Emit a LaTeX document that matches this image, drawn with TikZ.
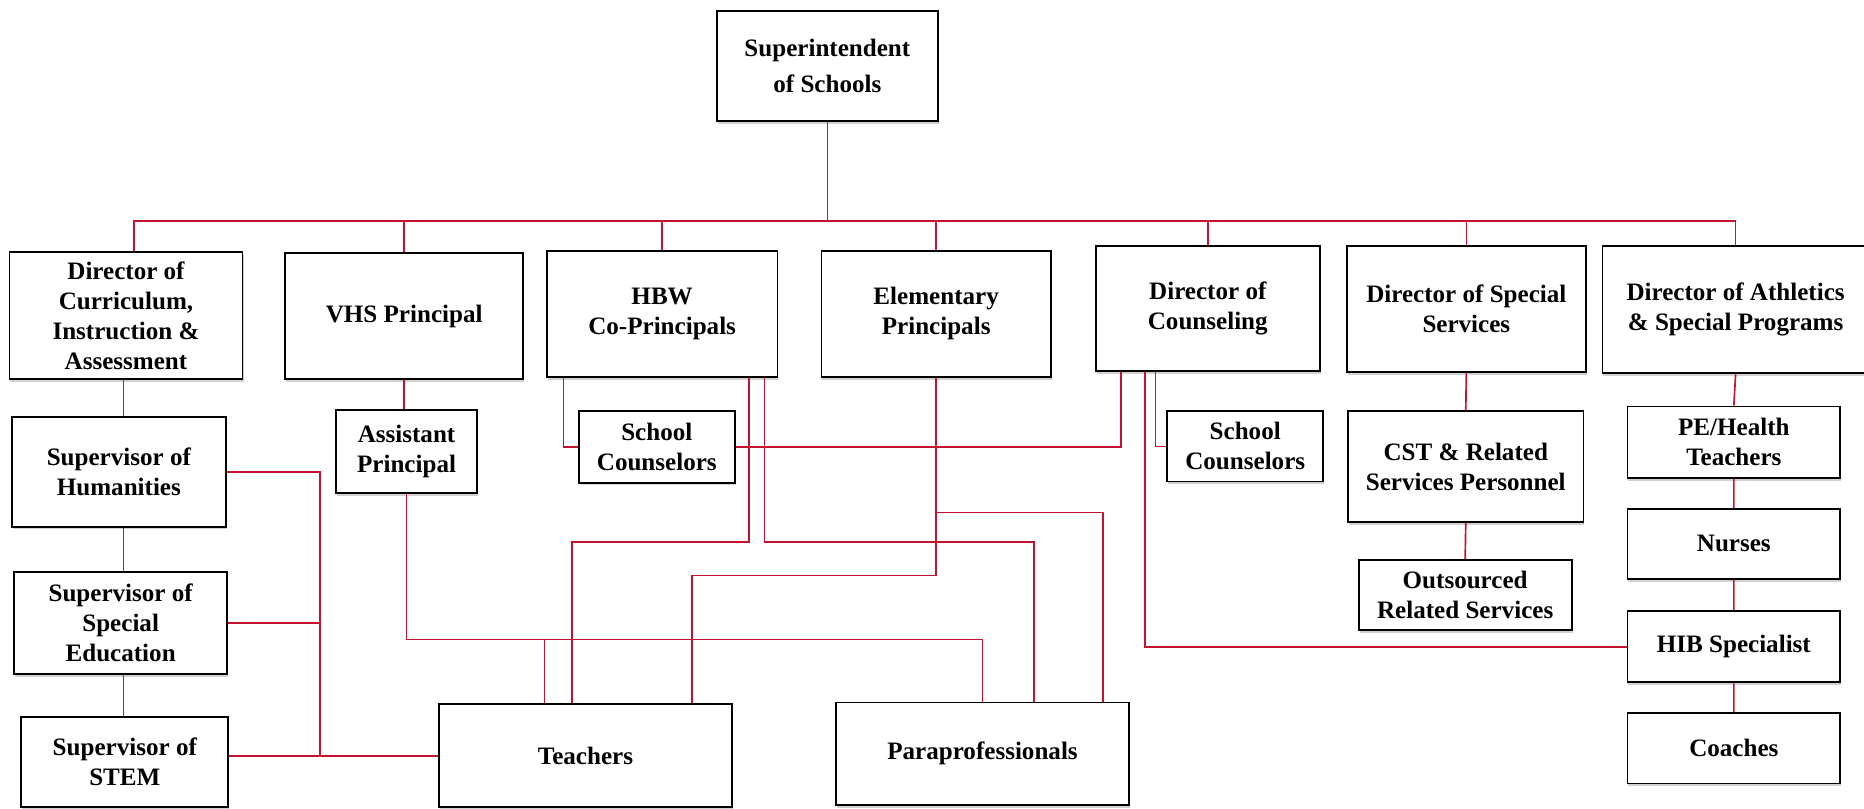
\documentclass[tikz,border=0pt]{standalone}
\usepackage{fontspec}
\setmainfont{Liberation Serif}
\usetikzlibrary{shadows}
\definecolor{orgred}{RGB}{196,18,48}
\tikzset{
	orgbox/.style={draw, line width=1.1pt, fill=white, align=center,
	  font=\bfseries\fontsize{15}{18}\selectfont,
	  drop shadow={shadow xshift=0.6pt, shadow yshift=-1.6pt, fill=black!40, opacity=0.45}},
	orgline/.style={orgred, line width=1pt}
}
\begin{document}
\begin{tikzpicture}[x=0.025cm, y=-0.025cm]
	\useasboundingbox (0,0) rectangle (1568,680);
	\node[orgbox, minimum width=4.65cm, minimum height=2.325cm] (sup) at (696,55.5)
	  {Superintendent\\[4pt]of Schools};
	\node[orgbox, minimum width=4.9cm, minimum height=2.675cm] (dci) at (106,265.5)
	  {Director of\\Curriculum,\\Instruction \&\\Assessment};
	\node[orgbox, minimum width=5cm, minimum height=2.65cm] (vhs) at (340,266)
	  {VHS Principal};
	\node[orgbox, minimum width=4.85cm, minimum height=2.65cm] (hbw) at (557,264)
	  {HBW\\Co-Principals};
	\node[orgbox, minimum width=4.825cm, minimum height=2.65cm] (elem) at (787.5,264)
	  {Elementary\\Principals};
	\node[orgbox, minimum width=4.7cm, minimum height=2.625cm] (dcoun) at (1016,259.5)
	  {Director of\\Counseling};
	\node[orgbox, minimum width=5.025cm, minimum height=2.65cm] (dss) at (1233.5,260)
	  {Director of Special\\Services};
	\node[orgbox, minimum width=5.6cm, minimum height=2.675cm] (dath) at (1460,260.5)
	  {Director of Athletics\\\& Special Programs};
	\node[orgbox, minimum width=4.5cm, minimum height=2.3cm] (hum) at (100,397)
	  {Supervisor of\\Humanities};
	\node[orgbox, minimum width=4.475cm, minimum height=2.15cm] (sped) at (101.5,524)
	  {Supervisor of\\Special\\Education};
	\node[orgbox, minimum width=4.35cm, minimum height=1.9cm] (stem) at (105,641)
	  {Supervisor of\\STEM};
	\node[orgbox, minimum width=2.95cm, minimum height=1.75cm] (ap) at (342,380)
	  {Assistant\\Principal};
	\node[orgbox, minimum width=3.275cm, minimum height=1.5cm] (sc1) at (552.5,376)
	  {School\\Counselors};
	\node[orgbox, minimum width=3.275cm, minimum height=1.475cm] (sc2) at (1047.5,375.5)
	  {School\\Counselors};
	\node[orgbox, minimum width=4.95cm, minimum height=2.325cm] (cst) at (1233,392.5)
	  {CST \& Related\\Services Personnel};
	\node[orgbox, minimum width=4.475cm, minimum height=1.475cm] (ors) at (1232.5,500.5)
	  {Outsourced\\Related Services};
	\node[orgbox, minimum width=4.475cm, minimum height=1.5cm] (pe) at (1458.5,372)
	  {PE/Health\\Teachers};
	\node[orgbox, minimum width=4.475cm, minimum height=1.475cm] (nur) at (1458.5,457.5)
	  {Nurses};
	\node[orgbox, minimum width=4.475cm, minimum height=1.5cm] (hib) at (1458.5,544)
	  {HIB Specialist};
	\node[orgbox, minimum width=4.475cm, minimum height=1.475cm] (coach) at (1458.5,629.5)
	  {Coaches};
	\node[orgbox, minimum width=6.175cm, minimum height=2.175cm] (teach) at (492.5,635.5)
	  {Teachers};
	\node[orgbox, minimum width=6.175cm, minimum height=2.15cm] (para) at (826.5,634)
	  {Paraprofessionals};
	\coordinate (bus) at (696,186);
	\coordinate (lj) at (269,636);
	\coordinate (apT) at (458,538);
	\coordinate (hbT) at (481,456);
	\coordinate (hbP) at (870,456);
	\coordinate (elT) at (582,484);
	\coordinate (elP) at (928,431);
	\draw[orgline] (sup.south) -- (bus)
	  (bus) -| (dci.north -| 113,0) (bus) -| (vhs.north) (bus) -| (hbw.north)
	  (bus) -| (elem.north) (bus) -| (dcoun.north) (bus) -| (dss.north)
	  (bus) -| (dath.north);
	\draw[orgline] (dci.south -| 104,0) -- (hum.north -| 104,0)
	  (hum.south -| 104,0) -- (sped.north -| 104,0)
	  (sped.south -| 104,0) -- (stem.north -| 104,0);
	\draw[orgline] (hum.east) -| (lj) (sped.east) -- (sped.east -| lj)
	  (stem.east |- lj) -- (teach.west |- lj);
	\draw[orgline] (vhs.south) -- (vhs.south |- ap.north);
	\draw[orgline] (ap.south) |- (apT) -- (teach.north -| apT)
	  (apT) -| (para.north);
	\draw[orgline] (hbw.south -| 474,0) |- (sc1.west);
	\draw[orgline] (hbw.south -| 630,0) |- (hbT) -- (teach.north -| hbT);
	\draw[orgline] (hbw.south -| 643,0) |- (hbP) -- (para.north -| hbP);
	\draw[orgline] (elem.south) |- (elT) -- (teach.north -| elT);
	\draw[orgline] (elem.south) |- (elP) -- (para.north -| elP);
	\draw[orgline] (sc1.east) -| (dcoun.south -| 943,0);
	\draw[orgline] (dcoun.south -| 972,0) |- (sc2.west);
	\draw[orgline] (dcoun.south -| 963,0) |- (hib.west);
	\draw[orgline] (dss.south) -- (cst.north) (cst.south) -- (ors.north);
	\draw[orgline] (dath.south) -- (pe.north) (pe.south) -- (nur.north)
	  (nur.south) -- (hib.north) (hib.south) -- (coach.north);
\end{tikzpicture}
\end{document}
